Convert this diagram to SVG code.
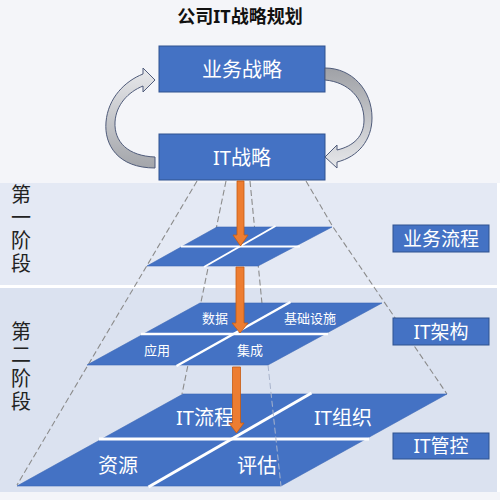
<svg xmlns="http://www.w3.org/2000/svg" width="500" height="500" viewBox="0 0 500 500">
<style>
  text { font-family: "Noto Sans", "Noto Sans CJK SC", sans-serif; }
  .box { fill: #4472C4; stroke: #2F528F; stroke-width: 1; }
  .wt { fill: #FFFFFF; text-anchor: middle; dominant-baseline: central; }
  .side { fill: #222222; font-size: 20px; writing-mode: vertical-rl; }
  .dash { stroke: #8C8C8C; stroke-width: 1.1; stroke-dasharray: 6 3; fill: none; }
  .plane { fill: #4472C4; stroke: #3B66B5; stroke-width: 0.6; }
  .gap { stroke: #FFFFFF; fill: none; }
  .orange { fill: #ED7D31; stroke: #C55A11; stroke-width: 0.8; }
  .curve { stroke: #4F5B7A; stroke-width: 1; }
</style>
<defs>
  <linearGradient id="gR" x1="0" y1="0" x2="0" y2="1">
    <stop offset="0" stop-color="#9FA1A6"/>
    <stop offset="1" stop-color="#E6E7EA"/>
  </linearGradient>
  <linearGradient id="gL" x1="0" y1="0" x2="0" y2="1">
    <stop offset="0" stop-color="#E8E9EC"/>
    <stop offset="1" stop-color="#A3A5AA"/>
  </linearGradient>
</defs>

<g id="background">
  <rect x="0" y="0" width="500" height="500" fill="#FFFFFF"/>
  <rect x="0" y="0" width="500" height="183" fill="#F4F5F9"/>
  <rect x="0" y="183" width="497" height="102" fill="#E4E9F4"/>
  <rect x="0" y="288" width="497" height="204" fill="#DBE2F0"/>
  <rect x="0" y="492" width="500" height="8" fill="#F4F5F9"/>
</g>

<g id="title">
  <text x="240" y="16" font-size="18" font-weight="bold" fill="#111111" text-anchor="middle" dominant-baseline="central">公司IT战略规划</text>
</g>

<g id="connectors">
  <path class="dash" d="M197,181 L17,485"/>
  <path class="dash" d="M226,181 L182,394"/>
  <path class="dash" d="M250,181 L268,365"/>
  <path class="dash" d="M306,181 L333,227 L447,394"/>
</g>

<g id="phase1-label">
  <text class="side" x="20" y="184" letter-spacing="3">第一阶段</text>
</g>
<g id="phase2-label">
  <text class="side" x="20" y="321" letter-spacing="3.5">第二阶段</text>
</g>

<g id="node-business-strategy">
  <rect class="box" x="159" y="46" width="166" height="46"/>
  <text class="wt" x="242" y="69" font-size="20">业务战略</text>
</g>
<g id="node-it-strategy">
  <rect class="box" x="159" y="134" width="166" height="46"/>
  <text class="wt" x="242" y="157" font-size="20">IT战略</text>
</g>

<g id="cycle-arrows">
  <path class="curve" fill="url(#gL)" d="M155,168 C118,168 104,145 106,122 C108,98 125,81 143,74 L143,68 L155,80 L143,92 L143,86 C128,92 116,105 115,122 C114,142 128,156 155,157 Z"/>
  <path class="curve" fill="url(#gR)" d="M325,68 C352,68 372,90 372,118 C372,140 358,157 337,162 L337,168 L325,157 L337,145 L337,150 C354,146 364,136 364,120 C364,98 348,82 325,80 Z"/>
</g>

<g id="level1">
  <polygon class="plane" points="217,227 332,227 258,266 147,266"/>
  <line class="gap" stroke-width="2" x1="181" y1="246.5" x2="300" y2="246.5"/>
  <line class="gap" stroke-width="2" x1="275.5" y1="226" x2="204" y2="267"/>
</g>

<g id="level2">
  <polygon class="plane" points="200,303 382,303 268,365 87,365"/>
  <line class="gap" stroke-width="2.5" x1="141" y1="334" x2="328" y2="334"/>
  <line class="gap" stroke-width="2.5" x1="290.5" y1="302" x2="176.5" y2="366"/>
  <text class="wt" x="215" y="318" font-size="13">数据</text>
  <text class="wt" x="310" y="318" font-size="13">基础设施</text>
  <text class="wt" x="157" y="350" font-size="13">应用</text>
  <text class="wt" x="250" y="350" font-size="13">集成</text>
</g>

<g id="level3">
  <polygon class="plane" points="183,394 447,394 281,486 17,486"/>
  <line class="gap" stroke-width="3" x1="99" y1="439" x2="369" y2="439"/>
  <line class="gap" stroke-width="3" x1="311.5" y1="393" x2="148.5" y2="487"/>
  <text class="wt" x="205" y="417" font-size="20">IT流程</text>
  <text class="wt" x="343" y="417" font-size="20">IT组织</text>
  <text class="wt" x="118" y="465" font-size="20">资源</text>
  <text class="wt" x="257" y="465" font-size="20">评估</text>
  <path d="M268,365 L281,486" stroke="#A9B4CC" stroke-width="1" stroke-dasharray="6 3" fill="none"/>
</g>

<g id="flow-arrows">
  <path class="orange" d="M237,181 L244,181 L244,235 L248,235 L240.5,246 L233,235 L237,235 Z"/>
  <path class="orange" d="M236,267 L244,267 L244,323 L248,323 L240,333 L232,323 L236,323 Z"/>
  <path class="orange" d="M232.5,367 L240.5,367 L240.5,423 L244,423 L236.5,433 L229,423 L232.5,423 Z"/>
</g>

<g id="node-business-process">
  <rect class="box" x="393" y="225" width="96" height="27"/>
  <text class="wt" x="441" y="238.5" font-size="19">业务流程</text>
</g>
<g id="node-it-architecture">
  <rect class="box" x="393" y="318" width="96" height="27"/>
  <text class="wt" x="441" y="331.5" font-size="19">IT架构</text>
</g>
<g id="node-it-governance">
  <rect class="box" x="393" y="433" width="96" height="26"/>
  <text class="wt" x="441" y="446" font-size="19">IT管控</text>
</g>
</svg>
